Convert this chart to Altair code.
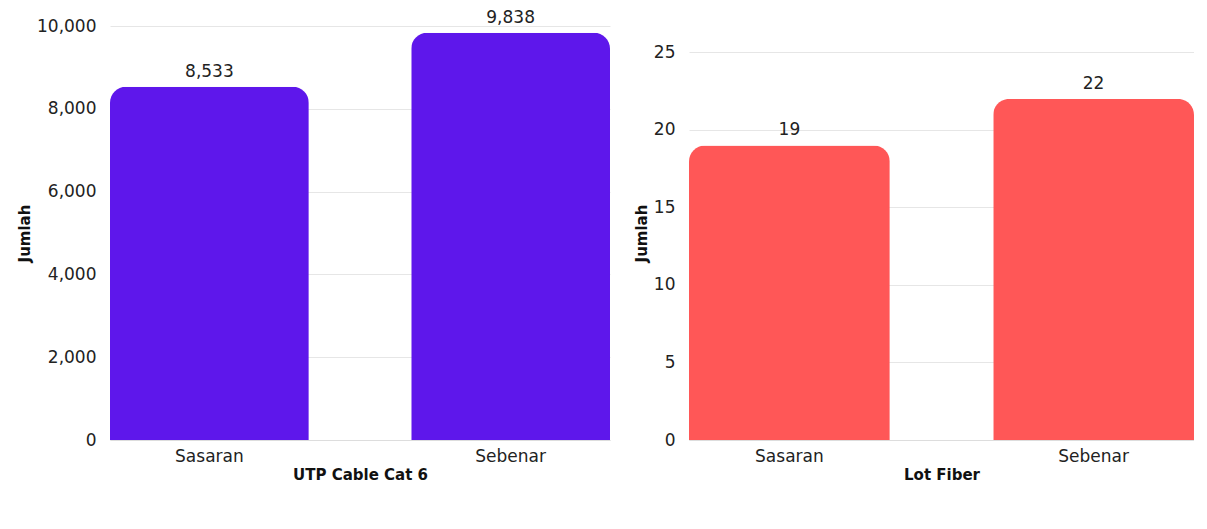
import altair as alt
import pandas as pd

categories = ["Sasaran", "Sebenar"]
utp_values = [8533, 9838]
fiber_values = [19, 22]

utp_title = "UTP Cable Cat 6"
fiber_title = "Lot Fiber"
y_title = "Jumlah"

FONT = "DejaVu Sans"

df_utp = pd.DataFrame({"cat": categories, "val": utp_values})
df_fib = pd.DataFrame({"cat": categories, "val": fiber_values})


def make_panel(df, color, xtitle, domain, tick_vals, fmt, width):
    x = alt.X(
        "cat:N",
        title=xtitle,
        sort=categories,
        scale=alt.Scale(paddingInner=0.34, paddingOuter=0),
        axis=alt.Axis(
            labelAngle=0,
            labelFontSize=17,
            labelColor="#222222",
            labelFont=FONT,
            labelPadding=8,
            ticks=False,
            domainColor="#dddddd",
            titleFont=FONT,
            titleFontSize=15,
            titleFontWeight="bold",
            titleColor="#111111",
            titlePadding=3,
        ),
    )
    y = alt.Y(
        "val:Q",
        title=y_title,
        scale=alt.Scale(domain=domain, nice=False),
        axis=alt.Axis(
            values=tick_vals,
            format=fmt,
            labelFontSize=17,
            labelColor="#222222",
            labelFont=FONT,
            labelPadding=14,
            ticks=False,
            domain=False,
            gridColor="#e6e6e6",
            titleFont=FONT,
            titleFontSize=15,
            titleFontWeight="bold",
            titleColor="#111111",
            titlePadding=4,
        ),
    )
    bars = alt.Chart(df).mark_bar(
        color=color, cornerRadiusTopLeft=16, cornerRadiusTopRight=16
    ).encode(x=x, y=y)
    text = alt.Chart(df).mark_text(
        baseline="bottom", dy=-6, fontSize=17, font=FONT, color="#222222"
    ).encode(
        x=alt.X("cat:N", sort=categories),
        y=alt.Y("val:Q"),
        text=alt.Text("val:Q", format=fmt),
    )
    return (bars + text).properties(width=width, height=414)


left = make_panel(df_utp, "#5E17EB", utp_title, [0, 10000],
                  [0, 2000, 4000, 6000, 8000, 10000], ",d", 500)
right = make_panel(df_fib, "#FF5757", fiber_title, [0, 26.7],
                   [0, 5, 10, 15, 20, 25], "d", 505)

chart = alt.hconcat(left, right, spacing=24).properties(
    padding={"top": 0, "left": 9, "right": 0, "bottom": 0}
).configure(background="white").configure_view(strokeWidth=0, stroke="transparent")

chart.save("out.html", embed_options={"renderer": "svg", "actions": False})
